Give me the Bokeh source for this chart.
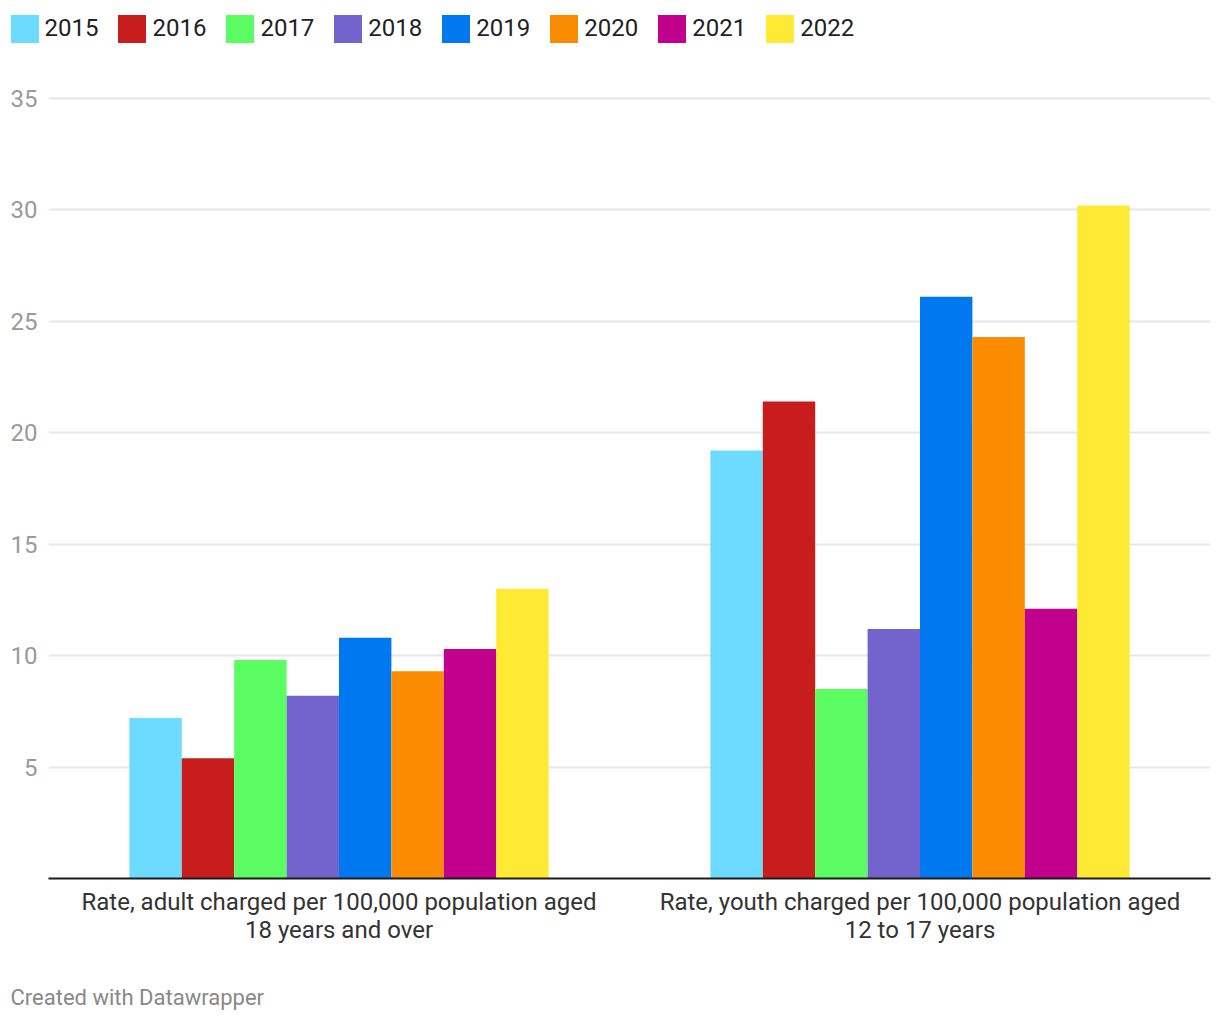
from bokeh.plotting import figure
from bokeh.models import ColumnDataSource, Range1d, FactorRange, Label, Legend, LegendItem
from bokeh.core.properties import value
from bokeh.layouts import column
from bokeh.transform import dodge
from bokeh.embed import file_html
from bokeh.resources import INLINE

years = ["2015", "2016", "2017", "2018", "2019", "2020", "2021", "2022"]
categories = ["Rate, adult charged per 100,000 population aged\n18 years and over",
              "Rate, youth charged per 100,000 population aged\n12 to 17 years"]
adult_rates = [7.2, 5.4, 9.8, 8.2, 10.8, 9.3, 10.3, 13.0]
youth_rates = [19.2, 21.4, 8.5, 11.2, 26.1, 24.3, 12.1, 30.2]
colors = ["#6ddbff", "#c71e1d", "#5cfd62", "#7263cd", "#0078ef", "#fb8b00", "#c1008b", "#ffea33"]
y_ticks = [5, 10, 15, 20, 25, 30, 35]
footer_text = "Created with Datawrapper"

FONT = "Roboto"
W = 1212
LH = 75     # legend strip height
MH = 903    # main chart height
FH = 34     # footer strip height

# ---- legend strip ----
lf = figure(width=W, height=LH, output_backend="svg", toolbar_location=None,
            x_axis_type=None, y_axis_type=None, min_border=0,
            x_range=Range1d(0, 1), y_range=Range1d(0, 1))
lf.frame_align = False
lf.outline_line_color = None
lf.xgrid.visible = False
lf.ygrid.visible = False
items = []
for i, yr in enumerate(years):
    # legend swatch renderer, its point lies outside the visible range
    r = lf.rect(x=[5], y=[5], width=1, height=1, fill_color=colors[i], line_color=None)
    items.append(LegendItem(label=yr, renderers=[r]))
lg = Legend(items=items, orientation="horizontal", location=(6.5, 29.5),
            glyph_width=35, glyph_height=35, label_standoff=3, spacing=16,
            padding=0, margin=0, border_line_color=None, background_fill_alpha=0,
            label_text_font=FONT, label_text_font_size="24px", label_text_color="#222222",
            label_height=35)
lf.add_layout(lg)

# ---- main chart ----
p = figure(width=W, height=MH, output_backend="svg", toolbar_location=None,
           x_range=FactorRange(factors=categories, range_padding=0),
           y_range=Range1d(0, 35.135),
           min_border_left=48, min_border_right=2, min_border_top=20, min_border_bottom=100)
p.frame_align = False
p.outline_line_color = None

bw = 0.0902
for i, yr in enumerate(years):
    src = ColumnDataSource(dict(cat=categories, val=[adult_rates[i], youth_rates[i]]))
    p.vbar(x=dodge("cat", (i - 3.5) * bw, range=p.x_range), top="val", width=bw,
           source=src, fill_color=colors[i], line_color=None)

p.xgrid.grid_line_color = None
p.ygrid.grid_line_color = "#e6e6e6"
p.ygrid.grid_line_width = 2
p.yaxis.ticker = y_ticks
p.ygrid.ticker = p.yaxis.ticker
p.yaxis.axis_line_color = None
p.yaxis.major_tick_line_color = None
p.yaxis.minor_tick_line_color = None
p.yaxis.major_label_standoff = 5
p.yaxis.major_label_text_font = FONT
p.yaxis.major_label_text_font_size = "24px"
p.yaxis.major_label_text_color = "#9a9a9a"

p.xaxis.axis_line_color = "#1a1a1a"
p.xaxis.axis_line_width = 2
p.xaxis.major_tick_line_color = None
p.xaxis.minor_tick_line_color = None
p.xaxis.major_label_standoff = 3
p.xaxis.major_label_text_font = FONT
p.xaxis.major_label_text_font_size = "24px"
p.xaxis.major_label_text_color = "#333333"
p.xaxis.major_label_text_line_height = 1.0

# ---- footer strip ----
ff = figure(width=W, height=FH, output_backend="svg", toolbar_location=None,
            x_axis_type=None, y_axis_type=None, min_border=0,
            x_range=Range1d(0, W), y_range=Range1d(0, FH))
ff.frame_align = False
ff.outline_line_color = None
ff.xgrid.visible = False
ff.ygrid.visible = False
ff.add_layout(Label(x=10, y=15, text=footer_text, text_font=FONT, text_font_size="22px",
                    text_color="#888888", text_baseline="middle", text_align="left"))

layout = column(lf, p, ff, spacing=0)
open("out.html", "w").write(file_html(layout, INLINE))
